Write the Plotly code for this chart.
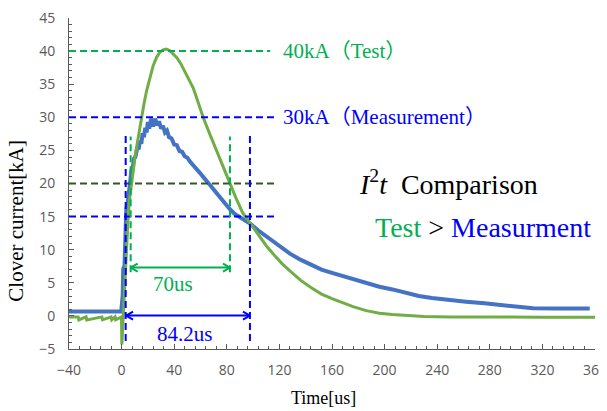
import plotly.graph_objects as go

# ---------------- data ----------------
time_meas = [-40, -0.3, 0.8, 1.3, 2.2, 2.8, 3.6, 4.5, 5.5, 6.5, 7.5, 8.5, 9.5, 10.5, 12, 13, 14, 15, 16, 17,
             18, 19, 20, 21, 22.5, 24, 25.5, 27, 28.5, 30, 31.5, 33, 34.5, 36, 38, 40, 42, 44, 46, 48,
             50, 52, 54, 56, 58, 60, 62, 64, 66, 68, 70, 72, 75, 78, 82, 86, 90, 94, 98, 104,
             110, 116, 122, 128, 136, 144, 152, 160, 168, 176, 186, 196, 206, 216, 226, 236, 248, 262, 276, 288,
             300, 313, 330, 345, 356]
curr_meas = [0.65, 0.65, 3.0, 7.2, 7.5, 12.0, 16.2, 16.8, 19.0, 20.5, 22.0, 22.5, 23.8, 24.0, 25.5, 25.2, 26.5, 26.0, 27.6, 27.0,
             28.4, 27.7, 29.3, 28.3, 29.8, 28.6, 29.8, 28.8, 29.4, 28.3, 28.7, 27.7, 28.0, 27.0, 26.8, 25.9, 25.8, 24.9, 24.8, 24.1,
             23.9, 23.3, 22.9, 22.5, 21.9, 21.5, 21.0, 20.6, 20.0, 19.6, 19.1, 18.6, 17.9, 17.1, 16.2, 15.4, 14.9, 14.4, 13.9, 12.9,
             12.0, 11.1, 10.3, 9.4, 8.5, 7.7, 7.0, 6.5, 6.0, 5.5, 4.9, 4.4, 4.0, 3.5, 3.0, 2.7, 2.4, 2.15, 1.9, 1.65,
             1.45, 1.15, 1.1, 1.1, 1.1]

time_test = [-40, -33, -32.5, -27, -26.5, -15, -14.5, -8, -7.5, -5, -4.5, -0.1, 0.2, 1.0, 2, 3, 4, 5, 6, 7,
             8, 9, 10, 11.5, 13, 15, 17, 19, 21.6, 24, 26.7, 29, 31.5, 34, 36.5, 39, 42, 45, 48, 51,
             54.5, 58, 62, 67, 72, 77, 82.4, 87, 92, 97.6, 104, 110, 116, 122, 128, 136, 144, 152, 160, 168,
             176, 186, 196, 206, 216, 230, 250, 280, 320, 360]
curr_test = [-0.15, -0.15, -0.6, -0.15, -0.6, -0.15, -0.6, -0.15, -0.6, -0.15, -0.6, -0.15, -4.3, -1.0, 3.5, 8.0, 12.0, 15.0, 17.5, 19.2,
             20.8, 22.3, 23.7, 25.6, 27.5, 29.8, 32.0, 34.0, 36.0, 37.8, 39.1, 39.8, 40.2, 40.3, 40.1, 39.6, 39.0, 38.1, 37.0, 35.8,
             34.4, 32.4, 30.0, 27.5, 25.0, 22.5, 20.0, 17.8, 15.6, 14.0, 12.2, 10.6, 9.2, 7.9, 6.8, 5.4, 4.3, 3.3, 2.6, 2.0,
             1.4, 0.8, 0.4, 0.2, 0.05, -0.1, -0.15, -0.2, -0.2, -0.2]

x_tick_vals = [-40, 0, 40, 80, 120, 160, 200, 240, 280, 320, 360]
y_tick_vals = [-5, 0, 5, 10, 15, 20, 25, 30, 35, 40, 45]

# reference levels (kA) and their colours
ref_levels = [40, 30, 20, 15]
ref_level_end = [113, 118, 118, 118]
ref_colors = ["#00B050", "#0000FF", "#375623", "#0000FF"]

# pulse-width markers (us)
meas_window = [3.1, 97.6]
test_window = [6.9, 82.4]
meas_width_label = "84.2us"
test_width_label = "70us"

# ---------------- figure ----------------
SERIF = "Liberation Serif, Times New Roman, Noto Sans CJK JP, serif"
GREEN_T = "#00B050"
BLUE_T = "#0000FF"

fig = go.Figure()
fig.add_trace(go.Scatter(x=time_meas, y=curr_meas, mode="lines",
                         line=dict(color="#4472C4", width=4), name="Measurement"))
fig.add_trace(go.Scatter(x=time_test, y=curr_test, mode="lines",
                         line=dict(color="#70AD47", width=3), name="Test"))

shapes = []
dash = "7px,4px"
for lvl, x1, c in zip(ref_levels, ref_level_end, ref_colors):
    shapes.append(dict(type="line", xref="x", yref="y", x0=-40, x1=x1, y0=lvl, y1=lvl,
                       line=dict(color=c, width=2, dash=dash)))
for t in meas_window:
    shapes.append(dict(type="line", xref="x", yref="y", x0=t, x1=t, y0=-3.8, y1=27.3,
                       line=dict(color=BLUE_T, width=2, dash=dash)))
for t in test_window:
    shapes.append(dict(type="line", xref="x", yref="y", x0=t, x1=t, y0=6.6, y1=27.1,
                       line=dict(color=GREEN_T, width=2, dash=dash)))


def double_arrow(x0, x1, y, color):
    dx, dy = 5.3, 0.6
    out = [dict(type="line", xref="x", yref="y", x0=x0, x1=x1, y0=y, y1=y,
                line=dict(color=color, width=2))]
    for xe, s in ((x0, 1), (x1, -1)):
        for sy in (1, -1):
            out.append(dict(type="line", xref="x", yref="y", x0=xe, y0=y,
                            x1=xe + s * dx, y1=y + sy * dy, line=dict(color=color, width=2)))
    return out


shapes += double_arrow(test_window[0], test_window[1], 7.3, GREEN_T)
shapes += double_arrow(meas_window[0] + 0.3, meas_window[1], 0.05, BLUE_T)

annotations = [
    dict(x=121, y=40, xref="x", yref="y", text="40kA（Test）", showarrow=False,
         xanchor="left", yanchor="middle", font=dict(family=SERIF, size=21, color=GREEN_T)),
    dict(x=121, y=30, xref="x", yref="y", text="30kA（Measurement）", showarrow=False,
         xanchor="left", yanchor="middle", font=dict(family=SERIF, size=21, color=BLUE_T)),
    dict(x=179, y=20.2, xref="x", yref="y",
         text="<i>I</i><sup>2</sup><i>t</i>  Comparison", showarrow=False,
         xanchor="left", yanchor="middle", font=dict(family=SERIF, size=28, color="#000000")),
    dict(x=358.5, y=13.4, xref="x", yref="y",
         text="<span style='color:#00B050'>Test</span> <span style='color:#000000'>&gt;</span> "
              "<span style='color:#0000FF'>Measurment</span>",
         showarrow=False, xanchor="right", yanchor="middle", font=dict(family=SERIF, size=28)),
    dict(x=39.3, y=4.8, xref="x", yref="y", text=test_width_label, showarrow=False,
         xanchor="center", yanchor="middle", font=dict(family=SERIF, size=21, color=GREEN_T)),
    dict(x=48.2, y=-2.7, xref="x", yref="y", text=meas_width_label, showarrow=False,
         xanchor="center", yanchor="middle", font=dict(family=SERIF, size=21, color=BLUE_T)),
    dict(x=-0.1, y=0.389, xref="paper", yref="paper", text="Clover current[kA]",
         showarrow=False, textangle=-90, xanchor="center", yanchor="middle",
         font=dict(family=SERIF, size=21, color="#000000")),
    dict(x=0.483, y=-0.148, xref="paper", yref="paper", text="Time[us]",
         showarrow=False, xanchor="center", yanchor="middle",
         font=dict(family=SERIF, size=18, color="#000000")),
]

axis_common = dict(showgrid=False, zeroline=False, showline=True, linecolor="#595959", linewidth=1,
                   ticks="inside", ticklen=5, tickcolor="#595959", tickwidth=1, automargin=False,
                   ticklabeloverflow="allow",
                   tickfont=dict(family="Open Sans, sans-serif", size=14, color="#595959"))

# the page body adds an 8px margin, so the figure is sized to fit the window after it
fig.update_layout(
    width=599, height=403,
    margin=dict(l=61, r=12, t=10, b=62, pad=0),
    paper_bgcolor="white", plot_bgcolor="white",
    showlegend=False,
    shapes=shapes,
    annotations=annotations,
    xaxis=dict(range=[-40, 360], tickvals=x_tick_vals, ticklabelstandoff=8,
               minor=dict(dtick=8, tick0=-40, ticks="inside", ticklen=3, tickcolor="#595959"),
               **axis_common),
    yaxis=dict(range=[-5, 45], tickvals=y_tick_vals, ticklabelstandoff=10,
               minor=dict(dtick=1, tick0=-5, ticks="inside", ticklen=3, tickcolor="#595959"),
               **axis_common),
)

fig.write_html("out.html")
